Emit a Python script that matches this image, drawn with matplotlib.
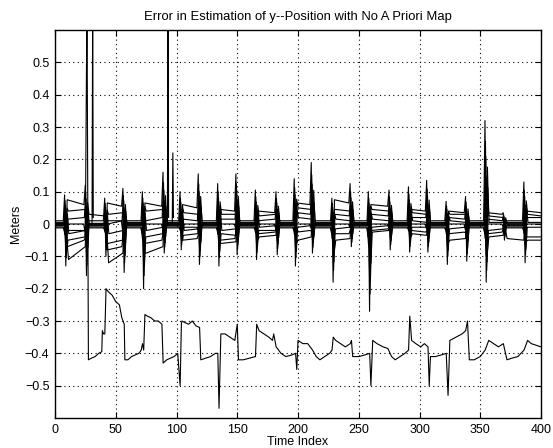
import matplotlib
matplotlib.use("Agg")
import matplotlib.pyplot as plt

plt.rcParams['font.family'] = ['Liberation Sans', 'DejaVu Sans']

# ---- data ----
title = "Error in Estimation of y--Position with No A Priori Map"
xlabel = "Time Index"
ylabel = "Meters"
xticks = [0, 50, 100, 150, 200, 250, 300, 350, 400]
yticks = [-0.5, -0.4, -0.3, -0.2, -0.1, 0, 0.1, 0.2, 0.3, 0.4, 0.5]
ytick_labels = ["\u22120.5", "\u22120.4", "\u22120.3", "\u22120.2", "\u22120.1", "0",
                "0.1", "0.2", "0.3", "0.4", "0.5"]

# manoeuvre bursts: time, highest and lowest excursion of the cluster
burst_t = [9, 26, 42, 57, 73, 90, 104, 119, 135, 150, 166, 183, 198, 212, 229,
           244, 259, 276, 292, 307, 323, 339, 355, 370, 387]
burst_hi = [0.09, 0.12, 0.08, 0.11, 0.10, 0.16, 0.10, 0.155, 0.125, 0.155, 0.105,
            0.10, 0.14, 0.19, 0.08, 0.125, 0.10, 0.105, 0.115, 0.135, 0.07, 0.085,
            0.32, 0.035, 0.13]
burst_lo = [-0.13, -0.16, -0.10, -0.15, -0.20, -0.09, -0.08, -0.125, -0.13, -0.095,
            -0.11, -0.095, -0.13, -0.09, -0.18, -0.07, -0.27, -0.08, -0.087, -0.087,
            -0.125, -0.115, -0.18, -0.05, -0.12]

# level of each cluster series (columns) just after each burst (rows)
band = [0.010, 0.005, 0.002, -0.002, -0.005, -0.009, 0.0, -0.012]
levels = [
    band,
    [0.075, 0.04, 0.015, -0.03, -0.05, -0.07, -0.11, 0.0],
    [0.010, 0.03, 0.002, -0.002, -0.005, -0.009, 0.0, -0.012],
    [0.065, 0.03, 0.0, -0.03, -0.06, -0.08, -0.12, 0.01],
    band,
    [0.065, 0.04, 0.01, -0.02, -0.04, -0.06, -0.09, 0.0],
    band,
    [0.06, 0.035, 0.015, -0.02, -0.035, -0.05, 0.0, -0.01],
    band,
    [0.045, 0.03, 0.015, -0.02, -0.03, -0.05, -0.06, 0.0],
    band,
    [0.04, 0.025, 0.01, -0.01, -0.02, -0.03, -0.04, 0.0],
    band,
    [0.065, 0.05, 0.035, 0.02, -0.01, -0.025, -0.05, 0.0],
    band,
    [0.075, 0.045, 0.03, 0.015, -0.015, -0.03, -0.05, 0.0],
    band,
    [0.06, 0.045, 0.03, 0.015, -0.01, -0.02, -0.025, 0.0],
    band,
    [0.045, 0.035, 0.02, 0.01, -0.01, -0.02, -0.03, 0.0],
    band,
    [0.04, 0.03, 0.02, 0.01, -0.015, -0.03, -0.05, 0.0],
    band,
    [0.035, 0.025, 0.015, 0.005, -0.02, -0.03, -0.04, 0.0],
    [0.010, 0.005, 0.002, -0.002, -0.005, -0.009, -0.045, -0.012],
    [0.04, 0.03, 0.02, 0.005, -0.01, -0.04, -0.05, 0.0],
]
# level of each cluster series just before the next burst (drifted lines)
levels_end = [
    band,
    [0.06, 0.045, 0.02, -0.02, -0.04, -0.05, -0.07, 0.0],
    [0.010, 0.025, 0.002, -0.002, -0.005, -0.009, 0.0, -0.012],
    [0.055, 0.035, 0.01, -0.02, -0.05, -0.07, -0.09, 0.01],
    band,
    [0.055, 0.045, 0.02, -0.01, -0.03, -0.05, -0.07, 0.0],
    band,
    [0.05, 0.03, 0.01, -0.015, -0.03, -0.045, 0.0, -0.01],
    band,
    [0.04, 0.03, 0.015, -0.015, -0.035, -0.045, -0.055, 0.0],
    band,
    [0.035, 0.03, 0.015, -0.005, -0.02, -0.025, -0.035, 0.0],
    band,
    [0.06, 0.045, 0.03, 0.015, -0.005, -0.02, -0.04, 0.0],
    band,
    [0.065, 0.04, 0.025, 0.01, -0.01, -0.03, -0.045, 0.0],
    band,
    [0.055, 0.04, 0.025, 0.01, -0.005, -0.015, -0.02, 0.0],
    band,
    [0.04, 0.03, 0.02, 0.005, -0.01, -0.025, -0.035, 0.0],
    band,
    [0.035, 0.03, 0.015, 0.005, -0.01, -0.025, -0.045, 0.0],
    band,
    [0.03, 0.02, 0.01, 0.005, -0.015, -0.025, -0.035, 0.0],
    [0.010, 0.005, 0.002, -0.002, -0.005, -0.009, -0.05, -0.012],
    [0.035, 0.025, 0.02, 0.005, -0.01, -0.04, -0.05, 0.0],
]
spike_frac = [1.0, 0.55, 0.8, 0.35, 0.65, 0.25, 0.45, 0.15]

# isolated tall spikes of the cluster
tall_t = [31, 93, 97]
tall_v = [0.70, 0.70, 0.22]

# the diverging estimate
div_t = [0, 8, 9, 10, 11, 25, 26.3, 27.5, 30, 33, 36, 38.5, 39, 40, 41, 42, 44, 47,
         50, 53, 55, 57, 57.5, 60, 63, 66, 69, 71, 72, 73, 74, 76, 79, 82, 85, 88,
         89, 92, 95, 98, 101, 103, 104, 104.5, 107, 110, 113, 116, 119, 120, 124,
         128, 132, 134, 135, 136.5, 140, 144, 148, 150, 151, 155, 160, 165, 166,
         168, 172, 176, 179, 180, 182, 186, 190, 195, 198, 199, 200, 204, 208, 212,
         215, 218, 222, 226, 228, 229, 231, 235, 239, 243, 244, 245, 250, 255, 259,
         260, 261.5, 265, 270, 274, 277, 280, 284, 288, 291, 292, 293.5, 297, 301,
         304, 307, 308, 309, 313, 318, 322, 323.5, 325, 330, 335, 338, 339.5, 341,
         345, 350, 354, 357, 361, 365, 369, 372, 376, 381, 386, 389, 392, 396, 400]
div_v = [0.0, 0.0, -0.06, 0.03, -0.02, -0.02, 0.70, -0.42, -0.415, -0.41, -0.40,
         -0.395, -0.33, -0.34, -0.34, -0.20, -0.21, -0.22, -0.24, -0.25, -0.29,
         -0.31, -0.42, -0.42, -0.41, -0.405, -0.40, -0.39, -0.37, -0.39, -0.28,
         -0.285, -0.29, -0.30, -0.30, -0.31, -0.43, -0.42, -0.415, -0.41, -0.40,
         -0.50, -0.31, -0.30, -0.305, -0.31, -0.30, -0.315, -0.32, -0.42, -0.415,
         -0.41, -0.40, -0.40, -0.57, -0.34, -0.34, -0.35, -0.36, -0.31, -0.42,
         -0.42, -0.415, -0.41, -0.31, -0.33, -0.34, -0.35, -0.36, -0.34, -0.38,
         -0.40, -0.41, -0.405, -0.40, -0.45, -0.36, -0.37, -0.37, -0.39, -0.41,
         -0.42, -0.41, -0.40, -0.39, -0.35, -0.36, -0.37, -0.38, -0.37, -0.36,
         -0.41, -0.41, -0.405, -0.40, -0.50, -0.36, -0.37, -0.38, -0.385, -0.41,
         -0.42, -0.41, -0.40, -0.39, -0.285, -0.36, -0.37, -0.38, -0.37, -0.38,
         -0.50, -0.41, -0.41, -0.405, -0.40, -0.53, -0.36, -0.35, -0.34, -0.33,
         -0.30, -0.42, -0.42, -0.41, -0.39, -0.36, -0.37, -0.38, -0.37, -0.42,
         -0.415, -0.41, -0.39, -0.36, -0.37, -0.375, -0.38]

# ---- figure ----
fig = plt.figure(figsize=(5.53, 4.48), dpi=100)
ax = fig.add_axes([55 / 553, 1 - 418 / 448, 486 / 553, 388 / 448])

shift = [-0.6, 0.4, -0.2, 0.7, 0.1, -0.4, 0.5, -0.8]
n_series = len(spike_frac)
for j in range(n_series):
    ts = [0.0]
    vs = [levels[0][j]]
    for b, (tb, hi, lo) in enumerate(zip(burst_t, burst_hi, burst_lo)):
        f = spike_frac[j]
        sh = shift[j]
        first, second = (hi, lo) if j % 2 == 0 else (lo, hi)
        ts += [tb - 1.6 + sh, tb - 0.5 + sh, tb + 0.5 + sh, tb + 1.6 + sh]
        vs += [levels_end[b][j], first * f, second * f, levels[b + 1][j]]
    ts.append(400.0)
    vs.append(levels_end[-1][j])
    ax.plot(ts, vs, color='black', lw=0.8)

for t, v in zip(tall_t, tall_v):
    ax.plot([t - 0.5, t, t + 0.5], [0.0, v, 0.02], color='black', lw=0.8)

ax.plot(div_t, div_v, color='black', lw=0.8)

ax.set_xlim(0, 400)
ax.set_ylim(-0.6, 0.6)
ax.set_xticks(xticks)
ax.set_yticks(yticks)
ax.set_yticklabels(ytick_labels)
ax.grid(True, color='black', linestyle=(0, (1, 3)), linewidth=0.8)
ax.tick_params(direction='in', top=True, right=True, labelsize=9, length=4, pad=4)
for s in ax.spines.values():
    s.set_linewidth(1.0)

ax.set_title(title, fontsize=9.4, pad=7)
ax.set_xlabel(xlabel, fontsize=9, labelpad=0)
ax.set_ylabel(ylabel, fontsize=9, labelpad=2)

fig.savefig("out.png", dpi=100)
